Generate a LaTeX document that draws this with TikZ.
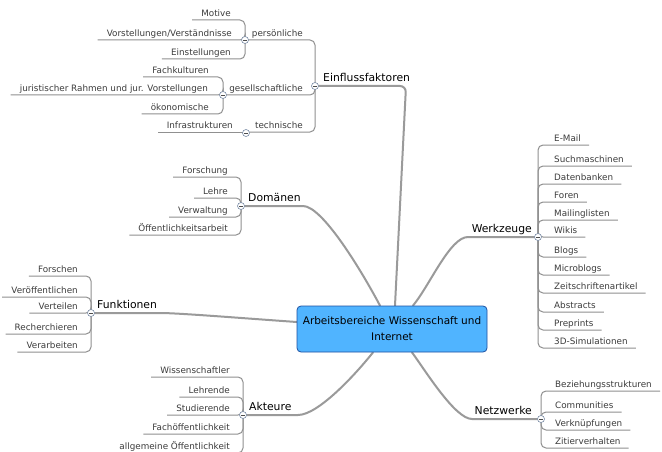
\documentclass[tikz,border=0pt]{standalone}
\usepackage{fontspec}
\setmainfont{DejaVu Sans}
\usetikzlibrary{backgrounds}
\definecolor{mainln}{HTML}{9A9A9A}
\definecolor{leafln}{HTML}{909090}
\definecolor{leaftxt}{HTML}{3C3C3C}
\definecolor{knobdraw}{HTML}{7A8CA6}
\definecolor{corefill}{RGB}{80,180,255}
\definecolor{coredraw}{RGB}{30,80,160}
\begin{document}
\begin{tikzpicture}[x=1pt,y=-1pt,
  leaf/.style={font=\fontsize{8.8}{10}\selectfont, text=leaftxt, inner xsep=0pt, inner ysep=1.3pt, text height=6.5pt, text depth=2.2pt},
  lleaf/.style={leaf, anchor=south east},
  rleaf/.style={leaf, anchor=south west},
  topic/.style={font=\fontsize{10.8}{12}\selectfont, text=black, inner xsep=0pt, inner ysep=1.5pt, text height=8pt, text depth=2.5pt},
  ltopic/.style={topic, anchor=south west},
  rtopic/.style={topic, anchor=south east},
  knob/.style={circle, draw=knobdraw, fill=white, minimum size=7pt, inner sep=0pt, line width=0.6pt,
    path picture={\draw[black!70, line width=0.7pt] ([xshift=-2pt]path picture bounding box.center) -- ([xshift=2pt]path picture bounding box.center);}},
  mainline/.style={draw=mainln, line width=2pt, line cap=round},
  leafline/.style={draw=leafln, line width=1pt, rounded corners=5pt},
  corebox/.style={draw=coredraw, fill=corefill, line width=0.8pt, rounded corners=4pt, minimum width=190pt, minimum height=46pt, align=center, font=\fontsize{10.5}{16}\selectfont, text=black}
]
\useasboundingbox (0,0) rectangle (662,452);
\clip (0,0) rectangle (662,452);

% central node
\node[corebox] (core) at (392,329) {Arbeitsbereiche Wissenschaft und\\Internet};

% Einflussfaktoren
\node[knob] (Ec) at (315,86) {};
\node[ltopic] (einfl) at (323,86) {Einflussfaktoren};
\node[lleaf] (pers) at (303,40) {persönliche};
\node[knob] (Pc) at (245,40) {};
\node[lleaf] (motive) at (231,20) {Motive};
\node[lleaf] (vorst) at (232,40) {Vorstellungen/Verständnisse};
\node[lleaf] (einst) at (231,59) {Einstellungen};
\node[lleaf] (ges) at (303,95) {gesellschaftliche};
\node[knob] (Gc) at (223,95) {};
\node[lleaf] (fachk) at (209,77) {Fachkulturen};
\node[lleaf] (jur) at (208,95) {juristischer Rahmen und jur. Vorstellungen};
\node[lleaf] (oekon) at (209,114) {ökonomische};
\node[lleaf] (tech) at (303,132) {technische};
\node[knob] (Tc) at (246,133) {};
\node[lleaf] (infra) at (233,132) {Infrastrukturen};

% Domaenen
\node[knob] (Dc) at (241,206) {};
\node[ltopic] (doma) at (248,206) {Domänen};
\node[lleaf] (forschung) at (228,177) {Forschung};
\node[lleaf] (lehre) at (228,198) {Lehre};
\node[lleaf] (verw) at (228,217) {Verwaltung};
\node[lleaf] (oeffa) at (228,235) {Öffentlichkeitsarbeit};

% Funktionen
\node[knob] (Fc) at (91,313) {};
\node[ltopic] (funk) at (97,313) {Funktionen};
\node[lleaf] (forschen) at (78,276) {Forschen};
\node[lleaf] (veroeff) at (78,297) {Veröffentlichen};
\node[lleaf] (verteil) at (78,313) {Verteilen};
\node[lleaf] (recher) at (78,334) {Recherchieren};
\node[lleaf] (verarb) at (78,352) {Verarbeiten};

% Akteure
\node[knob] (Ac) at (243,415) {};
\node[ltopic] (akt) at (249,415) {Akteure};
\node[lleaf] (wiss) at (230,377) {Wissenschaftler};
\node[lleaf] (lehrende) at (230,397) {Lehrende};
\node[lleaf] (stud) at (230,415) {Studierende};
\node[lleaf] (facho) at (230,434) {Fachöffentlichkeit};
\node[lleaf] (allgo) at (230,453) {allgemeine Öffentlichkeit};

% Werkzeuge
\node[knob] (Wc) at (538,237) {};
\node[rtopic] (werk) at (532,237) {Werkzeuge};
\node[rleaf] (email) at (554,145) {E-Mail};
\node[rleaf] (such) at (554,166) {Suchmaschinen};
\node[rleaf] (daten) at (554,184) {Datenbanken};
\node[rleaf] (foren) at (554,202) {Foren};
\node[rleaf] (maill) at (554,220) {Mailinglisten};
\node[rleaf] (wikis) at (554,237) {Wikis};
\node[rleaf] (blogs) at (554,257) {Blogs};
\node[rleaf] (micro) at (554,275) {Microblogs};
\node[rleaf] (zeit) at (554,293) {Zeitschriftenartikel};
\node[rleaf] (abstr) at (554,312) {Abstracts};
\node[rleaf] (prepr) at (554,330) {Preprints};
\node[rleaf] (sim) at (554,348) {3D-Simulationen};

% Netzwerke
\node[knob] (Nc) at (541,419) {};
\node[rtopic] (netz) at (532,419) {Netzwerke};
\node[rleaf] (bez) at (555,391) {Beziehungsstrukturen};
\node[rleaf] (comm) at (555,412) {Communities};
\node[rleaf] (verkn) at (555,430) {Verknüpfungen};
\node[rleaf] (zit) at (555,448) {Zitierverhalten};

\begin{pgfonlayer}{background}
\fill[white] (0,0) rectangle (662,452);
% main branches
\draw[mainline, rounded corners=6pt] (Ec.center) -- (406,86) -- ([xshift=3pt]core.north);
\draw[mainline] (Dc.center) -- (303,206) .. controls (322,206) and (360,268) .. ([xshift=-12pt]core.north);
\draw[mainline] (Fc.center) -- (160,313) .. controls (178,313) and (240,318) .. ([yshift=7pt]core.west);
\draw[mainline] (Ac.center) -- (298,415) .. controls (318,415) and (355,375) .. ([xshift=-19pt]core.south);
\draw[mainline] (Nc.center) -- (472,419) .. controls (455,419) and (425,370) .. ([xshift=20pt]core.south);
\draw[mainline] (Wc.center) -- (468,237) .. controls (450,237) and (430,285) .. ([xshift=21pt]core.north);

% Einflussfaktoren sub-branches
\draw[leafline] (Ec.center) |- (Pc.center);
\draw[leafline] (Ec.center) |- (Gc.center);
\draw[leafline] (Ec.center) |- (Tc.center |- tech.south);
\draw[leafline] (Pc.center) |- ([xshift=-9pt]motive.south west);
\draw[leafline] (Pc.center) |- ([xshift=-9pt]vorst.south west);
\draw[leafline] (Pc.center) |- ([xshift=-9pt]einst.south west);
\draw[leafline] (Gc.center) |- ([xshift=-9pt]fachk.south west);
\draw[leafline] (Gc.center) |- ([xshift=-9pt]jur.south west);
\draw[leafline] (Gc.center) |- ([xshift=-9pt]oekon.south west);
\draw[leafline] (Tc.center |- tech.south) -- ([xshift=-9pt]infra.south west);

% Domaenen
\foreach \n in {forschung,lehre,verw,oeffa}
  \draw[leafline] (Dc.center) |- ([xshift=-9pt]\n.south west);
% Funktionen
\foreach \n in {forschen,veroeff,verteil,recher,verarb}
  \draw[leafline] (Fc.center) |- ([xshift=-9pt]\n.south west);
% Akteure
\foreach \n in {wiss,lehrende,stud,facho,allgo}
  \draw[leafline] (Ac.center) |- ([xshift=-9pt]\n.south west);
% Werkzeuge
\foreach \n in {email,such,daten,foren,maill,wikis,blogs,micro,zeit,abstr,prepr,sim}
  \draw[leafline] (Wc.center) |- ([xshift=8pt]\n.south east);
% Netzwerke
\foreach \n in {bez,comm,verkn,zit}
  \draw[leafline] (Nc.center) |- ([xshift=8pt]\n.south east);
\end{pgfonlayer}
\end{tikzpicture}
\end{document}
